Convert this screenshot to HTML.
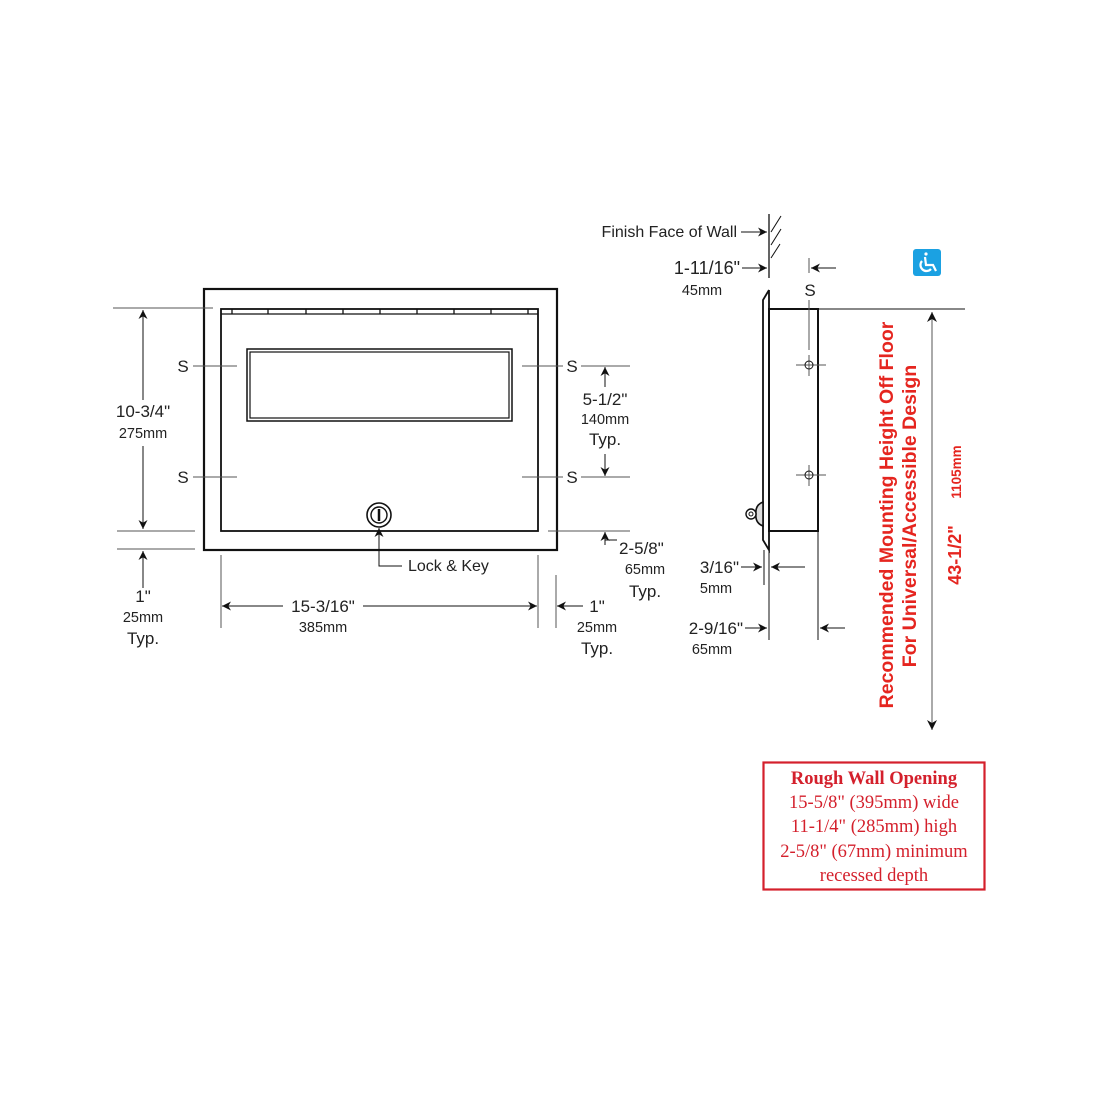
<!DOCTYPE html>
<html><head><meta charset="utf-8"><style>
html,body{margin:0;padding:0;background:#fff;}
svg{display:block;}
text{font-family:"Liberation Sans",sans-serif;fill:#222;}
.s{font-size:17px;}
.m{font-size:14.5px;}
.r{fill:#e5251f;font-weight:bold;}
.bx{font-family:"Liberation Serif",serif;fill:#d4202c;font-size:18.5px;}
</style></head><body>
<svg width="1100" height="1100" viewBox="0 0 1100 1100" xmlns="http://www.w3.org/2000/svg">
<defs>
<marker id="a" viewBox="0 0 10 10" refX="10" refY="5" markerWidth="9" markerHeight="9" markerUnits="userSpaceOnUse" orient="auto">
<path d="M0,0 L10,5 L0,10 L3,5 z" fill="#111"/></marker>
<marker id="ar" viewBox="0 0 10 10" refX="10" refY="5" markerWidth="10" markerHeight="10" markerUnits="userSpaceOnUse" orient="auto">
<path d="M0,0 L10,5 L0,10 L3,5 z" fill="#111"/></marker>
</defs>
<g fill="none" stroke="#111">
<rect x="204" y="289" width="353" height="261" stroke-width="2.2"/>
<rect x="221" y="309" width="317" height="222" stroke-width="1.8"/>
<line x1="221" y1="314" x2="538" y2="314" stroke-width="1.3"/>
<g stroke-width="1.3">
<line x1="232" y1="309" x2="232" y2="314"/><line x1="268" y1="309" x2="268" y2="314"/>
<line x1="306" y1="309" x2="306" y2="314"/><line x1="343" y1="309" x2="343" y2="314"/>
<line x1="380" y1="309" x2="380" y2="314"/><line x1="417" y1="309" x2="417" y2="314"/>
<line x1="454" y1="309" x2="454" y2="314"/><line x1="491" y1="309" x2="491" y2="314"/>
<line x1="528" y1="309" x2="528" y2="314"/>
</g>
<rect x="247" y="349" width="265" height="72" stroke-width="1.5"/>
<rect x="250" y="352" width="259" height="66" stroke-width="1.2"/>
<circle cx="379" cy="515" r="12" stroke-width="1.6"/>
<circle cx="379" cy="515" r="8" stroke-width="1.4"/>
<line x1="379" y1="509" x2="379" y2="521" stroke-width="2.5"/>
<g stroke="#555" stroke-width="1">
<line x1="193" y1="366" x2="237" y2="366"/><line x1="193" y1="477" x2="237" y2="477"/>
<line x1="522" y1="366" x2="563" y2="366"/><line x1="581" y1="366" x2="630" y2="366"/>
<line x1="522" y1="477" x2="563" y2="477"/><line x1="581" y1="477" x2="630" y2="477"/>
<line x1="113" y1="308" x2="213" y2="308"/>
<line x1="117" y1="531" x2="195" y2="531"/>
<line x1="117" y1="549" x2="195" y2="549"/>
<line x1="548" y1="531" x2="630" y2="531"/>
<line x1="221" y1="555" x2="221" y2="628"/>
<line x1="538" y1="555" x2="538" y2="628"/>
<line x1="556" y1="575" x2="556" y2="628"/>
</g>
<g stroke-width="1">
<line x1="143" y1="400" x2="143" y2="310" marker-end="url(#a)"/>
<line x1="143" y1="446" x2="143" y2="529" marker-end="url(#a)"/>
<line x1="143" y1="588" x2="143" y2="551" marker-end="url(#a)"/>
<line x1="605" y1="387" x2="605" y2="367" marker-end="url(#a)"/>
<line x1="605" y1="454" x2="605" y2="476" marker-end="url(#a)"/>
<polyline points="617,540 605,540 605,533" />
<line x1="605" y1="545" x2="605" y2="532" marker-end="url(#a)"/>
<line x1="283" y1="606" x2="222" y2="606" marker-end="url(#a)"/>
<line x1="363" y1="606" x2="537" y2="606" marker-end="url(#a)"/>
<line x1="583" y1="606" x2="557" y2="606" marker-end="url(#a)"/>
<polyline points="402,566 379,566 379,540"/>
<line x1="379" y1="545" x2="379" y2="528" marker-end="url(#a)"/>
</g>
<line x1="769" y1="214" x2="769" y2="278" stroke-width="1.3"/>
<g stroke-width="1"><line x1="771" y1="232" x2="781" y2="216"/><line x1="771" y1="245" x2="781" y2="229"/><line x1="771" y1="258" x2="780" y2="244"/></g>
<line x1="769" y1="550" x2="769" y2="640" stroke-width="1"/>
<path d="M769,290 L763,300 L763,540 L769,550 L769,290" stroke-width="1.8" fill="#fff"/>
<rect x="769" y="309" width="49" height="222" stroke-width="2"/>
<line x1="818" y1="531" x2="818" y2="640" stroke-width="1"/>
<line x1="764" y1="550" x2="764" y2="585" stroke-width="1"/>
<line x1="818" y1="309" x2="965" y2="309" stroke-width="1"/>
<g stroke="#555" stroke-width="1">
<line x1="809" y1="258" x2="809" y2="273"/><line x1="809" y1="300" x2="809" y2="350"/>
<line x1="796" y1="365" x2="826" y2="365"/><line x1="809" y1="355" x2="809" y2="376"/>
<line x1="796" y1="475" x2="826" y2="475"/><line x1="809" y1="465" x2="809" y2="486"/>
</g>
<circle cx="809" cy="365" r="4" stroke-width="1"/>
<circle cx="809" cy="475" r="4" stroke-width="1"/>
<path d="M763,502 Q755,505 756,514 Q755,523 763,526 Z" stroke-width="1.6" fill="#ddd"/>
<circle cx="751" cy="514" r="5" stroke-width="1.4" fill="#fff"/>
<circle cx="751" cy="514" r="2" stroke-width="1"/>
<g stroke-width="1">
<line x1="741" y1="232" x2="767" y2="232" marker-end="url(#a)"/>
<line x1="742" y1="268" x2="767" y2="268" marker-end="url(#a)"/>
<line x1="836" y1="268" x2="811" y2="268" marker-end="url(#a)"/>
<line x1="741" y1="567" x2="762" y2="567" marker-end="url(#a)"/>
<line x1="805" y1="567" x2="771" y2="567" marker-end="url(#a)"/>
<line x1="745" y1="628" x2="767" y2="628" marker-end="url(#a)"/>
<line x1="845" y1="628" x2="820" y2="628" marker-end="url(#a)"/>
<line x1="932" y1="330" x2="932" y2="312" marker-end="url(#ar)" stroke="#555"/>
<line x1="932" y1="320" x2="932" y2="730" marker-end="url(#ar)" stroke="#555"/>
</g>
<rect x="763.5" y="762.5" width="221" height="127" stroke="#d4202c" stroke-width="2.2"/>
</g>
<rect x="913" y="249" width="28" height="27" rx="3" fill="#1ba1e2"/>
<g fill="none" stroke="#fff" stroke-width="2.2">
<circle cx="926" cy="254" r="1.6" fill="#fff" stroke="none"/>
<path d="M925,257 L926,265 L933,265 L936,271"/>
<path d="M922,261 A6,6 0 1 0 931,269"/>
</g>
<text class="s" x="183" y="372" text-anchor="middle">S</text>
<text class="s" x="183" y="483" text-anchor="middle">S</text>
<text class="s" x="572" y="372" text-anchor="middle">S</text>
<text class="s" x="572" y="483" text-anchor="middle">S</text>
<text class="s" x="143" y="417" text-anchor="middle">10-3/4"</text>
<text class="m" x="143" y="438" text-anchor="middle">275mm</text>
<text class="s" x="143" y="602" text-anchor="middle">1"</text>
<text class="m" x="143" y="622" text-anchor="middle">25mm</text>
<text class="s" x="143" y="644" text-anchor="middle">Typ.</text>
<text class="s" x="605" y="405" text-anchor="middle">5-1/2"</text>
<text class="m" x="605" y="424" text-anchor="middle">140mm</text>
<text class="s" x="605" y="445" text-anchor="middle">Typ.</text>
<text class="s" x="619" y="554">2-5/8"</text>
<text class="m" x="645" y="574" text-anchor="middle">65mm</text>
<text class="s" x="645" y="597" text-anchor="middle">Typ.</text>
<text class="m" x="408" y="571" style="font-size:16px">Lock &amp; Key</text>
<text class="s" x="323" y="612" text-anchor="middle">15-3/16"</text>
<text class="m" x="323" y="632" text-anchor="middle">385mm</text>
<text class="s" x="597" y="612" text-anchor="middle">1"</text>
<text class="m" x="597" y="632" text-anchor="middle">25mm</text>
<text class="s" x="597" y="654" text-anchor="middle">Typ.</text>
<text class="m" x="737" y="237" text-anchor="end" style="font-size:16px">Finish Face of Wall</text>
<text class="s" x="740" y="274" text-anchor="end" style="font-size:18px">1-11/16"</text>
<text class="m" x="702" y="295" text-anchor="middle">45mm</text>
<text class="s" x="810" y="296" text-anchor="middle">S</text>
<text class="s" x="739" y="573" text-anchor="end">3/16"</text>
<text class="m" x="716" y="593" text-anchor="middle">5mm</text>
<text class="s" x="743" y="634" text-anchor="end">2-9/16"</text>
<text class="m" x="712" y="654" text-anchor="middle">65mm</text>
<text class="r" transform="translate(893,515) rotate(-90)" text-anchor="middle" style="font-size:19.5px">Recommended Mounting Height Off Floor</text>
<text class="r" transform="translate(916,516) rotate(-90)" text-anchor="middle" style="font-size:19.5px">For Universal/Accessible Design</text>
<text class="r" transform="translate(961,555) rotate(-90)" text-anchor="middle" style="font-size:18px">43-1/2"</text>
<text class="r" transform="translate(961,472) rotate(-90)" text-anchor="middle" style="font-size:13.5px">1105mm</text>
<text class="bx" x="874" y="784" text-anchor="middle" font-weight="bold">Rough Wall Opening</text>
<text class="bx" x="874" y="808" text-anchor="middle">15-5/8" (395mm) wide</text>
<text class="bx" x="874" y="832" text-anchor="middle">11-1/4" (285mm) high</text>
<text class="bx" x="874" y="857" text-anchor="middle">2-5/8" (67mm) minimum</text>
<text class="bx" x="874" y="881" text-anchor="middle">recessed depth</text>
</svg>
</body></html>
